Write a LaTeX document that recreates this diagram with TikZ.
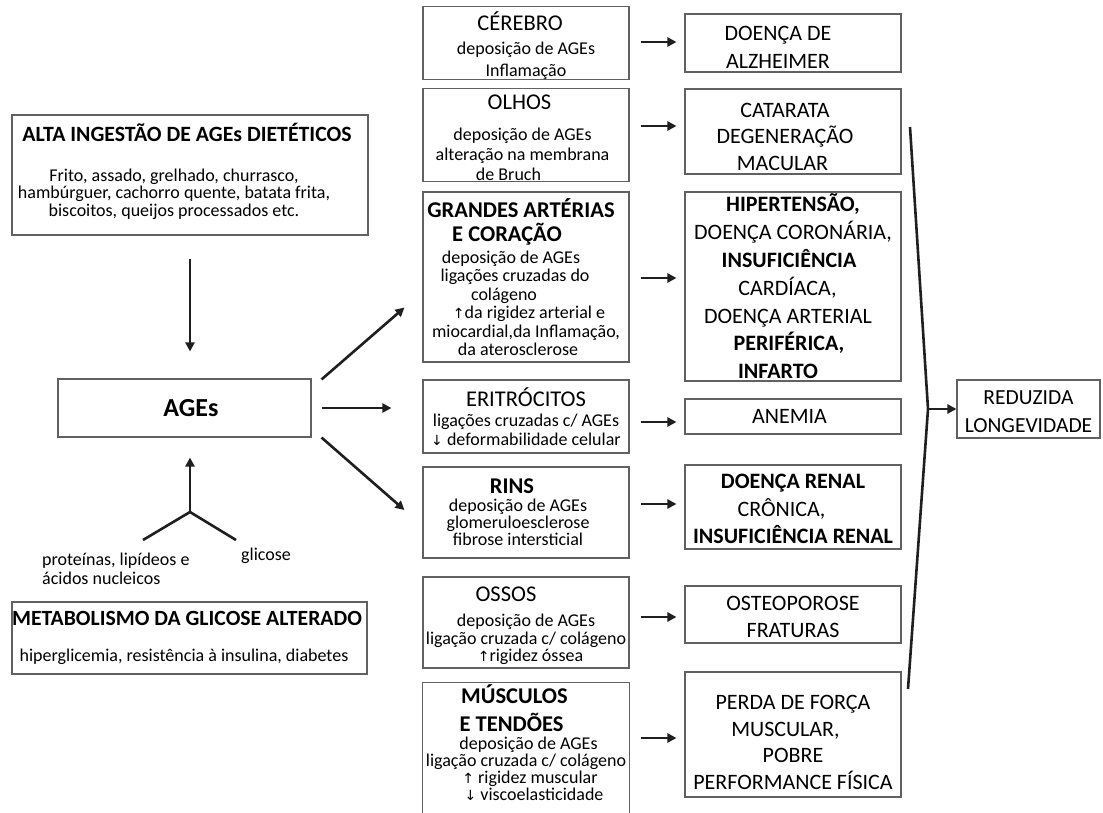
\documentclass[tikz,border=0pt]{standalone}
\usepackage{fontspec}
\setmainfont{Carlito}
\newfontfamily\symf{DejaVu Sans}
\usetikzlibrary{arrows.meta,calc}
\newcommand\ttl{\fontsize{22.5}{24}\selectfont}
\newcommand\arrup{{\symf\fontsize{14}{14}\selectfont ↑}}
\newcommand\arrdn{{\symf\fontsize{14}{14}\selectfont ↓}}
\newcommand\rp[1]{\hspace*{#1}\null}
\newcommand\tstrut[1]{\rule{0pt}{#1}}
\newcommand\bstrut[1]{\rule[-#1]{0pt}{0pt}}
\begin{document}
\begin{tikzpicture}[x=1pt,y=-1pt,
  box/.style={draw=black!62,line width=1.1pt,inner sep=0pt,align=center},
  boxline/.style={draw=black!62,line width=1.1pt},
  mid/.style={box,minimum width=206pt},
  rgt/.style={box,minimum width=216pt},
  arr/.style={draw=black!88,line width=2.6pt,-{Triangle[length=9pt,width=9pt]}},
  brk/.style={draw=black!88,line width=2.6pt,line join=miter},
  lbl/.style={inner sep=0pt,font=\fontsize{18}{19}\selectfont}]
\useasboundingbox (0,0) rectangle (1103,813);
\fill[white] (0,0) rectangle (1103,813);

% ---------- left column ----------
\node[box,minimum width=356pt,minimum height=120pt,font=\fontsize{18}{17.5}\selectfont] (alta) at (190,175)
 {{\bfseries\fontsize{21.8}{21}\selectfont ALTA INGESTÃO DE AGEs DIETÉTICOS}\rp{6pt}\\[22pt]
  Frito, assado, grelhado, churrasco,\rp{32pt}\\
  hambúrguer, cachorro quente, batata frita,\rp{32pt}\\
  biscoitos, queijos processados etc.\rp{32pt}\bstrut{10pt}};
\node[box,minimum width=253pt,minimum height=58pt,font=\bfseries\fontsize{26}{26}\selectfont] (ages) at (184.5,408) {\hspace*{13pt}AGEs};
\node[box,minimum width=355pt,minimum height=72pt,font=\fontsize{18}{17.5}\selectfont] (meta) at (189.5,638)
 {{\bfseries\fontsize{21.7}{21}\selectfont METABOLISMO DA GLICOSE ALTERADO}\rp{5pt}\\[18pt]
  hiperglicemia, resistência à insulina, diabetes\rp{11pt}};
\node[lbl,anchor=west,align=left] (lab1) at (42,568.5) {proteínas, lipídeos e\\ácidos nucleicos};
\node[lbl] (lab2) at (266,556) {glicose};

\coordinate (yj) at (190,512);
\coordinate (yl) at (143,540);
\coordinate (yr) at (236,540);

% ---------- middle column ----------
\node[mid,minimum height=72pt,font=\fontsize{18}{22}\selectfont] (cer) at (526,43)
 {\tstrut{24.5pt}{\ttl CÉREBRO}\rp{12pt}\\[2pt]deposição de AGEs\\Inflamação};
\node[mid,minimum height=92pt,font=\fontsize{18}{20}\selectfont] (olh) at (526,135)
 {\tstrut{21pt}{\ttl OLHOS}\rp{13pt}\\[11pt]deposição de AGEs\rp{7pt}\\alteração na membrana\rp{7pt}\\de Bruch\rp{35pt}};
\node[mid,minimum height=170pt,font=\fontsize{18}{18.5}\selectfont] (gra) at (526,277)
 {{\bfseries\ttl GRANDES ARTÉRIAS}\rp{10pt}\\[5.5pt]{\bfseries\ttl E CORAÇÃO}\rp{38pt}\\[3.5pt]
  deposição de AGEs\rp{30pt}\\ligações cruzadas do\rp{22pt}\\colágeno\rp{44pt}\\
  \hspace*{6pt}\arrup da rigidez arterial e\\miocardial,da Inflamação,\\da aterosclerose\rp{16pt}};
\node[mid,minimum height=73pt,font=\fontsize{18}{19}\selectfont] (eri) at (526,416.5)
 {{\ttl ERITRÓCITOS}\\[1pt]ligações cruzadas c/ AGEs\\\arrdn{} deformabilidade celular};
\node[mid,minimum height=91pt,font=\fontsize{18}{17}\selectfont] (rin) at (526,512.5)
 {{\bfseries\ttl RINS}\rp{28pt}\\[1pt]deposição de AGEs\rp{16pt}\\glomeruloesclerose\rp{16pt}\\fibrose intersticial\rp{16pt}};
\node[mid,minimum height=91pt,font=\fontsize{18}{17.5}\selectfont] (oss) at (526,622.5)
 {\tstrut{22pt}{\ttl OSSOS}\rp{40pt}\\[7.5pt]deposição de AGEs\\ligação cruzada c/ colágeno\\\hspace*{9pt}\arrup rigidez óssea};
\node[mid,draw=none,minimum height=120pt,font=\fontsize{18}{17}\selectfont] (mus) at (526,743)
 {{\bfseries\ttl MÚSCULOS}\rp{23pt}\\[8pt]{\bfseries\ttl E TENDÕES}\rp{29pt}\\[1.3pt]
  \hspace*{5pt}deposição de AGEs\\ligação cruzada c/ colágeno\\\hspace*{8pt}\arrup{} rigidez muscular\\\hspace*{16pt}\arrdn{} viscoelasticidade};
\draw[boxline] ([yshift=-40pt]mus.south west) -- (mus.north west) -- (mus.north east) -- ([yshift=-40pt]mus.south east);

% ---------- right column ----------
\node[rgt,minimum height=58pt,font=\fontsize{22}{28}\selectfont] (alz) at (793,43)
 {\tstrut{23pt}DOENÇA DE\rp{30pt}\\ALZHEIMER\rp{30pt}};
\node[rgt,minimum height=85pt,font=\fontsize{22}{26.5}\selectfont] (cat) at (793,131.5)
 {\tstrut{25pt}CATARATA\rp{16pt}\\DEGENERAÇÃO\rp{16pt}\\MACULAR\rp{21pt}};
\node[rgt,minimum height=189pt,font=\fontsize{22}{27.8}\selectfont] (hip) at (793,286.5)
 {{\bfseries HIPERTENSÃO,}\\DOENÇA CORONÁRIA,\\{\bfseries INSUFICIÊNCIA}\rp{8pt}\\CARDÍACA,\rp{11pt}\\DOENÇA ARTERIAL\rp{10pt}\\{\bfseries PERIFÉRICA,}\rp{8pt}\\{\bfseries INFARTO}\rp{30pt}};
\node[rgt,minimum height=35pt,font=\fontsize{22}{26}\selectfont] (ane) at (793,416.5) {ANEMIA\rp{7pt}};
\node[rgt,minimum height=84pt,font=\fontsize{22}{27.5}\selectfont] (ren) at (793,507)
 {\tstrut{19pt}{\bfseries DOENÇA RENAL}\\CRÔNICA,\rp{23pt}\\{\bfseries INSUFICIÊNCIA RENAL}};
\node[rgt,minimum height=57pt,font=\fontsize{22}{27}\selectfont] (ost) at (793,614.5)
 {\tstrut{20pt}OSTEOPOROSE\\FRATURAS};
\node[rgt,minimum height=125pt,font=\fontsize{22}{26.7}\selectfont] (per) at (793,734.5)
 {\tstrut{30pt}PERDA DE FORÇA\\MUSCULAR,\rp{15pt}\\POBRE\\PERFORMANCE FÍSICA};

\node[box,minimum width=143pt,minimum height=58pt,font=\fontsize{21.5}{28}\selectfont] (red) at (1028.5,409)
 {\tstrut{20pt}REDUZIDA\\LONGEVIDADE};

% ---------- connectors ----------
\draw[arr] ([yshift=-23pt]alta.south) -- ($(alta.south |- ages.north)+(0,-27)$);
\draw[brk] (yl) -- (yj) -- (yr);
\draw[arr] (yj) -- ($(yj |- ages.south)+(0,20)$);

\draw[arr] ([xshift=10pt,yshift=-1pt]ages.north east) -- ([xshift=-18pt,yshift=55pt]gra.south west);
\draw[arr] ([xshift=10pt]ages.east) -- ([xshift=-31pt,yshift=8.5pt]eri.west);
\draw[arr] ([xshift=10pt]ages.south east) -- ([xshift=-18pt,yshift=2.5pt]rin.west);

\draw[arr] ([xshift=11pt,yshift=1pt]cer.east) -- ([xshift=-8pt,yshift=1pt]alz.west);
\draw[arr] ([xshift=11pt,yshift=9pt]olh.east) -- ([xshift=-8pt,yshift=5.5pt]cat.west);
\draw[arr] ([xshift=11pt,yshift=-1pt]gra.east) -- ([xshift=-8pt,yshift=8.5pt]hip.west);
\draw[arr] ([xshift=11pt,yshift=-5.5pt]eri.east) -- ([xshift=-8pt,yshift=-5.5pt]ane.west);
\draw[arr] ([xshift=11pt,yshift=8.5pt]rin.east) -- ([xshift=-8pt,yshift=3pt]ren.west);
\draw[arr] ([xshift=11pt,yshift=5.5pt]oss.east) -- ([xshift=-8pt,yshift=-2.5pt]ost.west);
\draw[arr] ([xshift=11pt,yshift=5pt]mus.east) -- ([xshift=-8pt,yshift=-3.5pt]per.west);

\coordinate (bt) at (910,127);
\coordinate (ba) at (928,409);
\coordinate (bb) at (908,689);
\draw[brk] (bt) -- (ba) -- (bb);
\draw[arr] (ba) -- (red.west);
\end{tikzpicture}
\end{document}
